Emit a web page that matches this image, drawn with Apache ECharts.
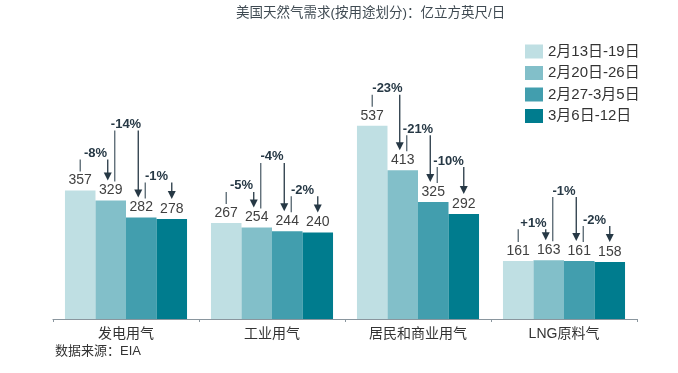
<!DOCTYPE html>
<html>
<head>
<meta charset="utf-8">
<script src="https://cdn.jsdelivr.net/npm/echarts@6/dist/echarts.min.js"></script>
<style>
html,body{margin:0;padding:0;background:#fff;}
#chart{width:678px;height:373px;}
</style>
</head>
<body>
<div id="chart"></div>
<script>
const categories = ['发电用气', '工业用气', '居民和商业用气', 'LNG原料气'];
const seriesNames = ['2月13日-19日', '2月20日-26日', '2月27-3月5日', '3月6日-12日'];
const week1 = [357, 267, 537, 161];
const week2 = [329, 254, 413, 163];
const week3 = [282, 244, 325, 161];
const week4 = [278, 240, 292, 158];
const change12 = ['-8%', '-5%', '-23%', '+1%'];
const change23 = ['-14%', '-4%', '-21%', '-1%'];
const change34 = ['-1%', '-2%', '-10%', '-2%'];

const weeks = [week1, week2, week3, week4];
const changes = [change12, change23, change34];
const colors = ['#BFDFE3', '#82BFC9', '#429EAE', '#007C8E'];
const FONT = "'Liberation Sans', Arial, 'Noto Sans CJK SC', sans-serif";
const GAP = 0.164;

const annData = [];
categories.forEach((c, ci) => {
  for (let k = 0; k < 3; k++) {
    annData.push([ci, k, Math.max(weeks[k][ci], weeks[k + 1][ci])]);
  }
});

function renderItem(params, api) {
  const c = api.value(0), k = api.value(1);
  const band = api.size([1, 0])[0];
  const barW = band * (1 - GAP) / 4;
  const cx = api.coord([c, 0])[0];
  const barX = i => cx - 2 * barW + (i + 0.5) * barW;
  const labY = v => api.coord([c, v])[1] - 11;
  const vals = weeks.map(w => w[c]);
  const textY = j => Math.min(labY(vals[j]), labY(vals[j + 1])) - (j === 0 ? 26 : 30);
  const ys = [textY(0), textY(1), textY(2)];
  if (Math.abs(ys[1] - ys[0]) < 22 || Math.abs(ys[1] - ys[2]) < 22) {
    ys[1] = Math.min(ys[0], ys[2]) - 29;
  }
  const ty = ys[k];
  const lx = barX(k) + (k > 0 ? 4 : 0);
  const ax = barX(k + 1) - (k + 1 < 3 ? 3 : 0);
  const tx = (barX(k) + barX(k + 1)) / 2;
  const lEnd = labY(vals[k]) - 8;
  const aEnd = labY(vals[k + 1]) - 9;
  return {
    type: 'group',
    children: [
      {
        type: 'text',
        style: {
          text: changes[k][c], x: tx, y: ty,
          align: 'center', verticalAlign: 'middle',
          textAlign: 'center', textVerticalAlign: 'middle',
          fontSize: 13, fontWeight: 'bold', fontFamily: FONT, fill: '#263845'
        }
      },
      { type: 'line', shape: { x1: lx, y1: ty + 6, x2: lx, y2: lEnd }, style: { stroke: '#55656f', lineWidth: 1.3 } },
      { type: 'line', shape: { x1: ax, y1: ty + 6, x2: ax, y2: aEnd - 6 }, style: { stroke: '#263845', lineWidth: 1.3 } },
      { type: 'polygon', shape: { points: [[ax - 4, aEnd - 8], [ax + 4, aEnd - 8], [ax, aEnd]] }, style: { fill: '#263845' } }
    ]
  };
}

const chart = echarts.init(document.getElementById('chart'), null, { renderer: 'canvas' });
const barSeries = weeks.map((w, i) => ({
  name: seriesNames[i],
  type: 'bar',
  data: w,
  barGap: '0%',
  barCategoryGap: (GAP * 100) + '%',
  itemStyle: { color: colors[i] },
  label: {
    show: true, position: 'top', distance: 3,
    fontSize: 14, color: '#404040', fontFamily: FONT
  }
}));

chart.setOption({
  animation: false,
  backgroundColor: '#ffffff',
  title: {
    text: '美国天然气需求(按用途划分)：亿立方英尺/日',
    left: 236, top: 7, padding: 0,
    textStyle: { fontSize: 13.5, fontWeight: 'normal', color: '#3f4a52', fontFamily: FONT }
  },
  legend: {
    orient: 'vertical', left: 525, top: 44, padding: 0,
    itemWidth: 18, itemHeight: 14, itemGap: 6.5,
    icon: 'rect',
    textStyle: { fontSize: 15, color: '#333333', fontFamily: FONT },
    data: seriesNames
  },
  grid: { left: 53, right: 41, top: 103, bottom: 54, containLabel: false },
  xAxis: {
    type: 'category',
    data: categories,
    axisLine: { show: true, lineStyle: { color: '#8a969e', width: 1.2 } },
    axisTick: { show: true, length: 3, lineStyle: { color: '#8a969e' } },
    axisLabel: { fontSize: 14, color: '#333333', margin: 8, fontFamily: FONT }
  },
  yAxis: { type: 'value', min: 0, max: 600, show: false, splitLine: { show: false } },
  graphic: [{
    type: 'text', left: 55, top: 345,
    style: { text: '数据来源：EIA', fontSize: 13, fill: '#333333', fontFamily: FONT }
  }],
  series: barSeries.concat([{
    type: 'custom',
    renderItem: renderItem,
    data: annData,
    encode: { x: 0, y: 2 },
    silent: true,
    z: 5
  }])
});
</script>
</body>
</html>
